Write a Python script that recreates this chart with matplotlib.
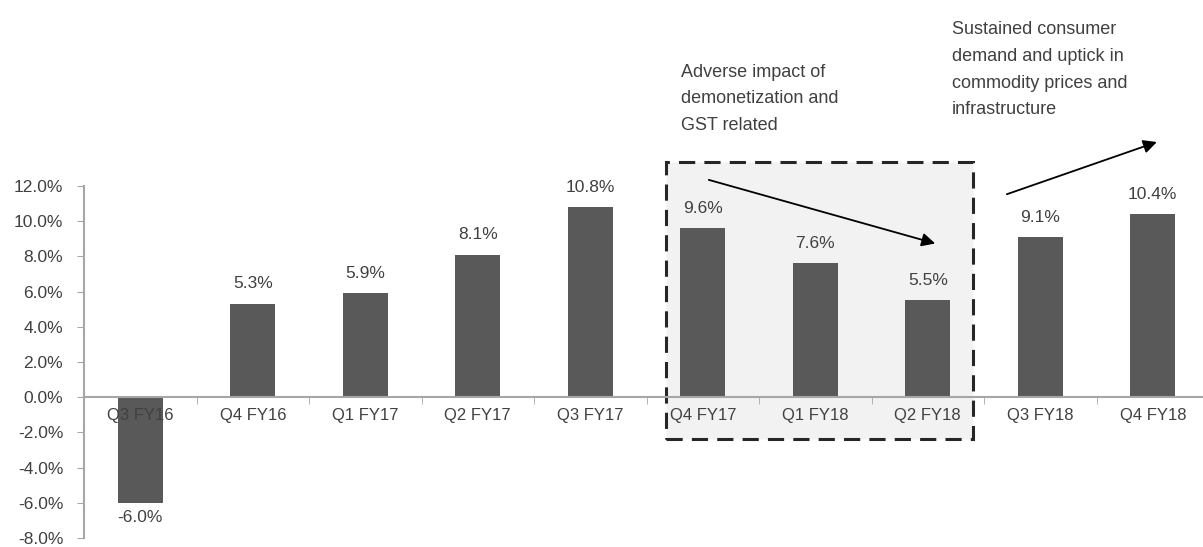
import matplotlib.pyplot as plt
import numpy as np
from matplotlib.patches import Rectangle
from matplotlib.ticker import FuncFormatter, FixedLocator

plt.rcParams['font.family'] = ['Liberation Sans', 'DejaVu Sans']

quarters = ['Q3 FY16', 'Q4 FY16', 'Q1 FY17', 'Q2 FY17', 'Q3 FY17',
            'Q4 FY17', 'Q1 FY18', 'Q2 FY18', 'Q3 FY18', 'Q4 FY18']
growth = [-6.0, 5.3, 5.9, 8.1, 10.8, 9.6, 7.6, 5.5, 9.1, 10.4]
y_ticks = np.arange(-8, 13, 2)

note_left = 'Adverse impact of\ndemonetization and\nGST related'
note_right = 'Sustained consumer\ndemand and uptick in\ncommodity prices and\ninfrastructure'

bar_color = '#595959'
text_color = '#404040'
axis_color = '#a6a6a6'

fig = plt.figure(figsize=(12.03, 5.47), dpi=100)
ax = fig.add_axes([84 / 1203, 0.0165, 1125 / 1203, 0.6435])
# axis layer (tick labels) drawn above the bars, so "Q3 FY16" shows over the negative bar
ax.set_axisbelow(False)

x = np.arange(len(quarters))
ax.bar(x, growth, width=0.4, color=bar_color, zorder=2)

for xi, v in zip(x, growth):
    if v >= 0:
        ax.annotate(f'{v:.1f}%', (xi, v), xytext=(0, 9), textcoords='offset points',
                    ha='center', va='bottom', fontsize=12.5, color=text_color)
    else:
        ax.annotate(f'{v:.1f}%', (xi, v), xytext=(0, -5), textcoords='offset points',
                    ha='center', va='top', fontsize=12.5, color=text_color)

ax.set_xlim(-0.5, len(quarters) - 0.5)
ax.set_ylim(-8, 12)
ax.set_yticks(y_ticks)
ax.yaxis.set_major_formatter(FuncFormatter(lambda v, _: f'{v:.1f}%'))

ax.set_xticks(x)
ax.set_xticklabels(quarters)
ax.xaxis.set_minor_locator(FixedLocator(np.arange(0.5, len(quarters) - 0.5, 1)))
ax.tick_params(axis='x', which='major', length=0, pad=8, labelsize=12, labelcolor=text_color)
ax.tick_params(axis='x', which='minor', length=5, color=axis_color, direction='out')
ax.tick_params(axis='y', length=5, color=axis_color, labelsize=12.5, labelcolor=text_color, pad=10)

for s in ['top', 'right']:
    ax.spines[s].set_visible(False)
ax.spines['bottom'].set_position(('data', 0))
for s in ['bottom', 'left']:
    ax.spines[s].set_color(axis_color)
    ax.spines[s].set_linewidth(1.5)

# shaded dashed box around the slowdown quarters
box = Rectangle((4.673, -2.39), 7.402 - 4.673, 13.35 + 2.39,
                facecolor='#f2f2f2', edgecolor='#262626', lw=2.2,
                linestyle=(0, (5.3, 3)), clip_on=False, zorder=1)
ax.add_patch(box)

ax.annotate('', xy=(7.09, 8.69), xytext=(5.03, 12.39),
            arrowprops=dict(arrowstyle='-|>', color='black', lw=1.3, mutation_scale=20),
            annotation_clip=False, zorder=4)
ax.annotate('', xy=(9.06, 14.55), xytext=(7.68, 11.48),
            arrowprops=dict(arrowstyle='-|>', color='black', lw=1.3, mutation_scale=20),
            annotation_clip=False, zorder=4)

ax.text(4.807, 16.95, note_left, ha='left', va='center', fontsize=13,
        color=text_color, linespacing=1.75, clip_on=False)
ax.text(7.216, 18.6, note_right, ha='left', va='center', fontsize=13,
        color=text_color, linespacing=1.75, clip_on=False)

fig.savefig('out.png', dpi=100)
